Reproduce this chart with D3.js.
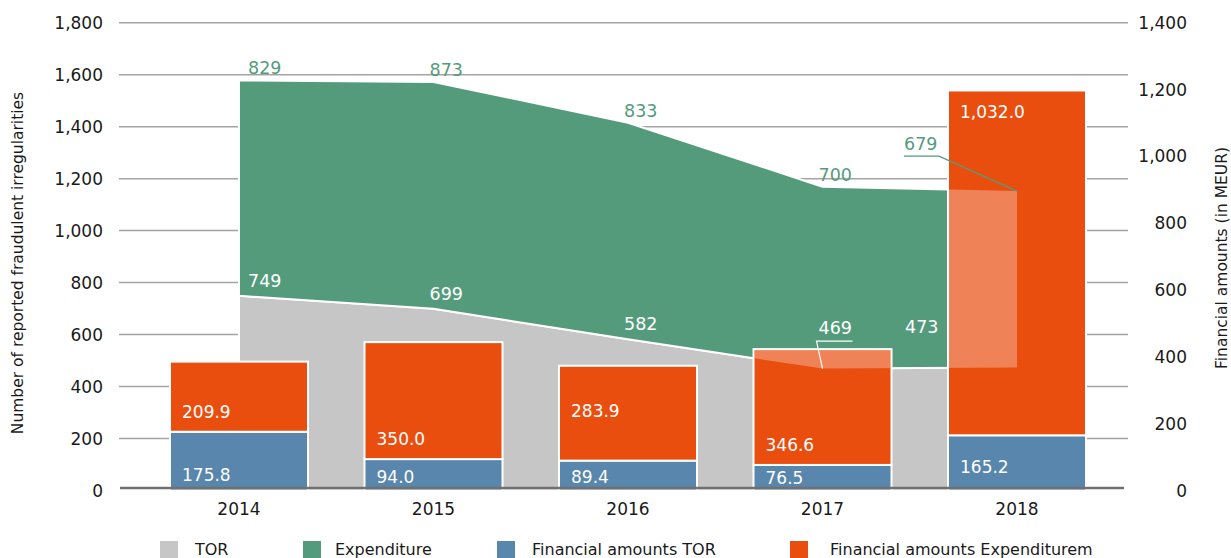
<!DOCTYPE html>
<html><head><meta charset="utf-8">
<script src="https://cdnjs.cloudflare.com/ajax/libs/d3/7.8.5/d3.min.js"></script>
<style>
body{margin:0;background:#fff}
svg{display:block}
text{font-family:"DejaVu Sans",sans-serif}
</style>
</head><body>
<svg id="chart" width="1231" height="558"></svg>
<script>
// ---- data ----
const years = ["2014","2015","2016","2017","2018"];
const torCounts = [749, 699, 582, 469, 473];
const expCounts = [829, 873, 833, 700, 679];
const finTor = [175.8, 94.0, 89.4, 76.5, 165.2];
const finExp = [209.9, 350.0, 283.9, 346.6, 1032.0];
const leftTicks = [0,200,400,600,800,1000,1200,1400,1600,1800];
const rightTicks = [0,200,400,600,800,1000,1200,1400];
const seriesNames = ["TOR","Expenditure","Financial amounts TOR","Financial amounts Expenditurem"];
const leftTitle = "Number of reported fraudulent irregularities";
const rightTitle = "Financial amounts (in MEUR)";

// ---- layout / styles ----
const C = {tor:"#c6c6c6", exp:"#549b7c", ftor:"#5886ac", fexp:"#e94e0f", grid:"#a4a4a4", axis:"#707070", text:"#1a1a1a"};
// label placement: pixels above segment bottom (-1 = place near top of segment)
const expLabelLift = [14, 14, 44, 14, -1];
const torLabelLift = [10, 8, 8, 7, -1];

const svg = d3.select("#chart");
const x = d3.scalePoint().domain(years).range([239, 1017]);
const yL = d3.scaleLinear().domain([0,1800]).range([490.5, 22.7]);
const yR = d3.scaleLinear().domain([0,1400]).range([490.5, 22.7]);
const barW = 138;

const rows = years.map((y,i)=>({year:y, tor:torCounts[i], exp:expCounts[i], ftor:finTor[i], fexp:finExp[i]}));

// gridlines
svg.append("g").selectAll("line").data(leftTicks.filter(t=>t>0)).join("line")
  .attr("x1",119).attr("x2",1128).attr("y1",d=>yL(d)).attr("y2",d=>yL(d))
  .attr("stroke",C.grid).attr("stroke-width",1.5);

// stacked area
const areaStack = d3.stack().keys(["tor","exp"])(rows);
const area = d3.area().x(d=>x(d.data.year)).y0(d=>yL(d[0])).y1(d=>yL(d[1]));
svg.append("g").selectAll("path").data(areaStack).join("path")
  .attr("d",area).attr("fill",(d,i)=>i===0?C.tor:C.exp)
  .attr("stroke","#fff").attr("stroke-width",2).attr("stroke-linejoin","round");

// stacked bars
const barStack = d3.stack().keys(["ftor","fexp"])(rows);
svg.append("g").selectAll("g").data(barStack).join("g")
  .attr("fill",(d,i)=>i===0?C.ftor:C.fexp)
  .selectAll("rect").data(d=>d).join("rect")
  .attr("x",d=>x(d.data.year)-barW/2).attr("width",barW)
  .attr("y",d=>yR(d[1])).attr("height",d=>yR(d[0])-yR(d[1]))
  .attr("stroke","#fff").attr("stroke-width",2);

// light overlay where the expenditure area overlaps bars
const defs = svg.append("defs");
const cp = defs.append("clipPath").attr("id","barclip");
rows.forEach(r=>{
  cp.append("rect").attr("x",x(r.year)-barW/2+1).attr("width",barW-2)
    .attr("y",yR(r.ftor+r.fexp)+1).attr("height",yR(0)-yR(r.ftor+r.fexp)-1);
});
svg.append("path").datum(areaStack[1]).attr("d",area)
  .attr("fill","#fff").attr("fill-opacity",0.3).attr("clip-path","url(#barclip)");

// baseline
svg.append("line").attr("x1",120).attr("x2",1124).attr("y1",488).attr("y2",488)
  .attr("stroke",C.axis).attr("stroke-width",2.5);

// axes tick labels
const fs = 17;
svg.append("g").selectAll("text").data(leftTicks).join("text")
  .attr("x",103).attr("y",d=>yL(d)).attr("dy","0.36em").attr("text-anchor","end")
  .attr("font-size",fs).attr("fill",C.text).text(d=>d3.format(",")(d));
svg.append("g").selectAll("text").data(rightTicks).join("text")
  .attr("x",1187).attr("y",d=>yR(d)).attr("dy","0.36em").attr("text-anchor","end")
  .attr("font-size",fs).attr("fill",C.text).text(d=>d3.format(",")(d));
svg.append("g").selectAll("text").data(years).join("text")
  .attr("x",d=>x(d)).attr("y",509).attr("dy","0.36em").attr("text-anchor","middle")
  .attr("font-size",fs).attr("fill",C.text).text(d=>d);

// axis titles
svg.append("text").attr("transform","translate(23,263) rotate(-90)").attr("text-anchor","middle")
  .attr("font-size",15.5).attr("fill",C.text).text(leftTitle);
svg.append("text").attr("transform","translate(1227,258) rotate(-90)").attr("text-anchor","middle")
  .attr("font-size",15.5).attr("fill",C.text).text(rightTitle);

// area labels
const lbl = svg.append("g").attr("font-size",17.5);
rows.forEach((r,i)=>{
  const cx = x(r.year);
  const last = i===rows.length-1;
  const torTop = yL(r.tor), expTop = yL(r.tor+r.exp);
  const barTop = yR(r.ftor+r.fexp);
  // Expenditure label
  let ex = i===0 ? cx+9 : cx-4, ey = expTop-6;
  if(last){ ex = cx-113; ey = expTop-41; }
  lbl.append("text").attr("x",ex).attr("y",ey).attr("fill",C.exp).text(d3.format(",")(r.exp));
  if(last){
    lbl.append("polyline").attr("points",`${ex},${ey+6} ${ex+35},${ey+6} ${cx},${expTop}`)
      .attr("fill","none").attr("stroke",C.exp).attr("stroke-width",1.2);
  }
  // TOR label
  let tx = i===0 ? cx+9 : cx-4, ty = torTop-9;
  const overlap = barTop < torTop+20;
  if(overlap && !last){ ty = barTop-15;
    lbl.append("polyline").attr("points",`${tx+34},${ty+7} ${tx-2},${ty+7} ${cx},${torTop}`)
      .attr("fill","none").attr("stroke","#fff").attr("stroke-width",1.2);
  }
  if(last){ tx = cx-112; ty = torTop-35; }
  lbl.append("text").attr("x",tx).attr("y",ty).attr("fill","#fff").text(d3.format(",")(r.tor));
});

// bar labels
const blbl = svg.append("g").attr("font-size",fs).attr("fill","#fff");
const f1 = d3.format(",.1f");
rows.forEach((r,i)=>{
  const left = x(r.year)-barW/2+12;
  const torTopY = yR(r.ftor), expTopY = yR(r.ftor+r.fexp);
  const tyb = torLabelLift[i] < 0 ? torTopY+38 : yR(0)-torLabelLift[i];
  blbl.append("text").attr("x",left).attr("y",tyb).text(f1(r.ftor));
  const eyb = expLabelLift[i] < 0 ? expTopY+28 : torTopY-expLabelLift[i];
  blbl.append("text").attr("x",left).attr("y",eyb).text(f1(r.fexp));
});

// legend
const legX = [[160,195],[303,335],[497,532],[790,830]];
const legColors = [C.tor,C.exp,C.ftor,C.fexp];
const leg = svg.append("g");
seriesNames.forEach((n,i)=>{
  leg.append("rect").attr("x",legX[i][0]).attr("y",541).attr("width",18).attr("height",17).attr("fill",legColors[i]);
  leg.append("text").attr("x",legX[i][1]).attr("y",549).attr("dy","0.36em").attr("font-size",16)
    .attr("fill",C.text).text(n);
});
</script>
</body></html>
